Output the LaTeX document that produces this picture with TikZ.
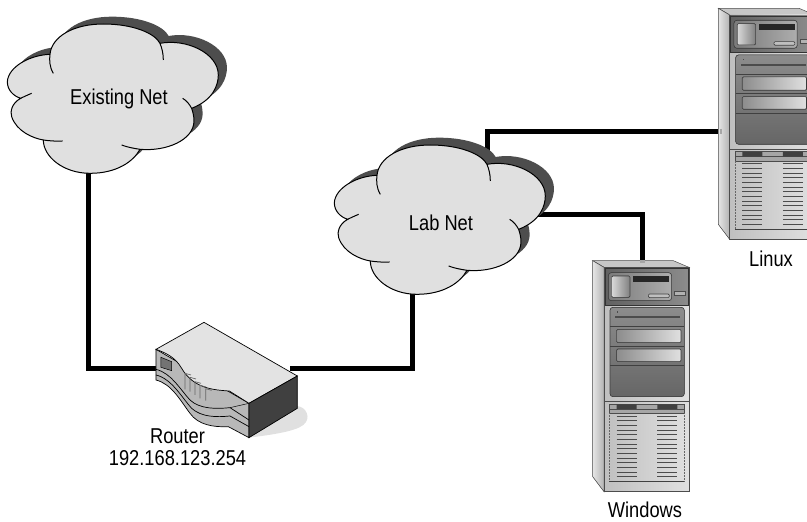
\documentclass[tikz,border=0pt]{standalone}
\usepackage{fontspec}
\setmainfont{Liberation Sans}[FakeStretch=0.85]
\usetikzlibrary{backgrounds}
\definecolor{CloudFill}{HTML}{E0E0E0}
\definecolor{CloudShadow}{HTML}{4D4D4D}
\tikzstyle{Etiqueta}=[inner sep=0pt, font=\fontsize{21.5}{22}\selectfont, align=center]
\tikzstyle{Cable}=[line width=5pt, black, line join=miter]
\tikzstyle{Conector}=[line width=5pt, gray!70]
\tikzstyle{Panel}=[draw=black!75, line width=0.6pt, rounded corners=1.2pt]
\tikzstyle{Vent}=[line width=0.55pt, black!70]
\newcommand{\CloudOutline}{(150,133) .. controls (90,135) and (25,170) .. (22,215)
	.. controls (22,240) and (40,258) .. (62,265)
	.. controls (35,280) and (30,305) .. (35,320)
	.. controls (50,365) and (100,385) .. (130,390)
	.. controls (130,440) and (190,490) .. (270,490)
	.. controls (350,490) and (400,455) .. (420,418)
	.. controls (500,425) and (580,390) .. (582,335)
	.. controls (582,315) and (578,305) .. (575,295)
	.. controls (640,270) and (655,225) .. (655,195)
	.. controls (655,130) and (560,85) .. (480,100)
	.. controls (465,70) and (400,42) .. (310,42)
	.. controls (220,42) and (155,80) .. (150,133) -- cycle}
\tikzset{
	netcloud/.pic={
		\begin{scope}[x=0.3333pt,y=-0.3333pt]
			\fill[CloudShadow,shift={(26,-22)}] \CloudOutline;
			\fill[CloudFill] \CloudOutline;
			\draw[line width=1pt] (130,390) .. controls (100,385) and (50,365) .. (35,320)
				.. controls (30,305) and (35,280) .. (62,265)
				.. controls (40,258) and (22,240) .. (22,215)
				.. controls (25,170) and (90,135) .. (150,133);
			\draw[line width=1pt] (160,190) .. controls (148,170) and (148,150) .. (150,133)
				.. controls (155,80) and (220,42) .. (310,42)
				.. controls (400,42) and (465,70) .. (480,100) .. controls (486,115) and (490,130) .. (490,150);
			\draw[line width=1pt] (480,100) .. controls (560,85) and (655,130) .. (655,195)
				.. controls (655,225) and (640,270) .. (575,295) .. controls (568,282) and (560,272) .. (548,265);
			\draw[line width=1pt] (575,295) .. controls (578,305) and (582,315) .. (582,335)
				.. controls (580,390) and (500,425) .. (420,418) .. controls (400,415) and (380,411) .. (365,405);
			\draw[line width=1pt] (188,393) .. controls (170,394) and (150,393) .. (130,390)
				.. controls (130,440) and (190,490) .. (270,490)
				.. controls (350,490) and (400,455) .. (420,418);
			\draw[line width=1pt] (62,265) .. controls (72,260) and (85,254) .. (95,250);
		\end{scope}
	},
	rackserver/.pic={
		\begin{scope}[x=0.3333pt,y=-0.3333pt]
			%Caja
			\filldraw[draw=black!70, fill=black!22, line width=0.5pt] (38,32) -- (280,32) -- (327,52) -- (72,52) -- cycle;
			\filldraw[draw=black!70, left color=black!10, right color=black!30, line width=0.5pt] (38,32) -- (72,52) -- (72,725) -- (38,680) -- cycle;
			\filldraw[draw=black!70, left color=black!25, right color=black!12, line width=0.5pt] (72,52) rectangle (327,725);
			%Modulo superior
			\filldraw[draw=black!80, left color=black!62, right color=black!45, line width=0.7pt] (75,55) rectangle (325,165);
			\filldraw[Panel, left color=black!52, right color=black!32, rounded corners=3pt] (85,68) rectangle (275,152);
			\filldraw[Panel, left color=black!15, right color=black!50] (95,78) rectangle (150,142);
			\fill[black!85] (160,78) rectangle (268,97);
			\filldraw[Panel, fill=black!25] (205,132) rectangle (268,143);
			\filldraw[draw=black!70, fill=black!30, line width=0.6pt] (283,125) rectangle (315,137);
			%Modulo central
			\filldraw[Panel, top color=black!45, bottom color=black!60, rounded corners=3pt] (90,172) rectangle (313,440);
			\draw[line width=0.6pt, black!75] (90,230) -- (313,230) (90,288) -- (313,288) (90,347) -- (313,347);
			\fill[black!70] (105,198) rectangle (300,204);
			\fill[black!70] (111,184) rectangle (114,188);
			\filldraw[Panel, left color=black!45, right color=black!12] (110,238) rectangle (303,278);
			\filldraw[Panel, left color=black!45, right color=black!12] (110,297) rectangle (303,335);
			%Modulo inferior
			\draw[line width=0.6pt, black!70] (72,455) -- (327,455);
			\filldraw[draw=black!70, fill=black!35, line width=0.5pt] (88,462) rectangle (313,490);
			\draw[line width=0.5pt, black!70] (88,477) -- (313,477);
			\fill[black!75] (110,463) rectangle (170,477) (232,463) rectangle (292,477);
			\foreach \ventY in {498,512,...,688}{
				\draw[Vent] (110,\ventY) -- (170,\ventY);
				\draw[Vent] (232,\ventY) -- (292,\ventY);
			}
			\draw[line width=0.5pt, black!60, densely dotted] (88,490) -- (88,695) (313,490) -- (313,695);
			\draw[line width=0.9pt, black!75] (88,695) -- (313,695);
		\end{scope}
	},
	routerbox/.pic={
		\begin{scope}[x=0.3333pt,y=-0.3333pt]
			%Sombra
			\fill[black!12] (500,288) .. controls (530,290) and (545,325) .. (520,345) .. controls (495,365) and (420,375) .. (357,383) -- cycle;
			%Frente
			\filldraw[draw=black, fill=black!28, line width=0.7pt] (78,118) -- (78,210)
				.. controls (125,222) and (150,270) .. (180,310)
				.. controls (205,345) and (250,352) .. (295,350) -- (357,383) -- (357,280) -- cycle;
			\draw[line width=0.7pt] (78,178) .. controls (125,190) and (150,238) .. (180,270)
				.. controls (210,298) and (260,297) .. (300,293) -- (357,330);
			\draw[line width=0.7pt] (78,195) .. controls (125,206) and (155,262) .. (185,295)
				.. controls (215,322) and (260,322) .. (300,318) -- (357,350);
			\draw[line width=0.5pt] (300,293) -- (357,280);
			%Tapa
			\filldraw[draw=black, fill=black!11, line width=0.7pt] (222,37) -- (502,198) -- (357,280) -- (298,243)
				.. controls (250,240) and (190,235) .. (155,175)
				.. controls (135,140) and (105,128) .. (78,118) -- cycle;
			%Lado
			\filldraw[draw=black, fill=black!75, line width=0.7pt] (357,280) -- (502,198) -- (502,295) -- (357,383) -- cycle;
			%Pantalla
			\filldraw[draw=black, fill=black!55, line width=0.5pt] (93,142) -- (125,155) -- (125,182) -- (93,172) -- cycle;
			\foreach \tickX/\tickT/\tickB in {165/190/238,180/202/245,195/215/255,210/226/265,227/236/272}
				\draw[line width=0.7pt, black!60] (\tickX,\tickT) -- (\tickX,\tickB) (\tickX,\tickT) -- ++(18,5);
		\end{scope}
	}
}
\begin{document}
\begin{tikzpicture}[x=1pt,y=-1pt]
	\useasboundingbox (0,0) rectangle (807,522);
	\clip (0,0) rectangle (807,522);

	%Nodos
	\pic (existing) at (0,10) {netcloud};
	\pic (lab) at (327,131) {netcloud};
	\pic (router) at (130,310) {routerbox};
	\pic (windows) at (580,250) {rackserver};
	\pic (linux) at (705.6,-2.4) {rackserver};

	\node[Etiqueta] (existing_label) at (119,99) {Existing Net};
	\node[Etiqueta] (lab_label) at (441,223) {Lab Net};
	\node[Etiqueta] (router_label) at (177.5,447) {Router\\192.168.123.254};
	\node[Etiqueta] (windows_label) at (645,510) {Windows};
	\node[Etiqueta] (linux_label) at (771,259) {Linux};

	\coordinate (existing_s) at (88,172);
	\coordinate (lab_s) at (412,292);
	\coordinate (lab_n) at (487,155);
	\coordinate (lab_e) at (530,214);
	\coordinate (router_w) at (160,368);
	\coordinate (router_e) at (290,368);
	\coordinate (windows_n) at (642,260);
	\coordinate (linux_w) at (720,131);

	%Lineas
	\begin{scope}[on background layer]
		\draw[Cable] (existing_s) |- (router_w);
		\draw[Cable] (router_e) -| (lab_s);
		\draw[Cable] (lab_n) |- (linux_w);
		\draw[Cable] (lab_e) -| (windows_n);
	\end{scope}
	\draw[Conector] (windows_n) -- ++(0,2.5);
	\draw[Conector] (linux_w) -- ++(2,0);
\end{tikzpicture}
\end{document}
